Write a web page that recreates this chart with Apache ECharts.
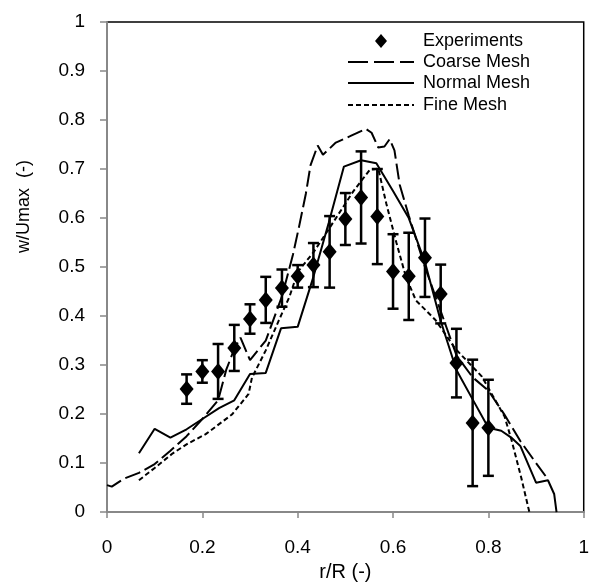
<!DOCTYPE html>
<html><head><meta charset="utf-8">
<script src="https://cdn.jsdelivr.net/npm/echarts@6/dist/echarts.min.js"></script>
<style>html,body{margin:0;padding:0;background:#fff}#c{width:592px;height:587px}</style>
</head><body><div id="c"></div>
<script>
var xTicks = [0, 0.2, 0.4, 0.6, 0.8, 1];
var yTicks = [0, 0.1, 0.2, 0.3, 0.4, 0.5, 0.6, 0.7, 0.8, 0.9, 1];
var legendNames = ['Experiments', 'Coarse Mesh', 'Normal Mesh', 'Fine Mesh'];

var expX = [0.167,0.2,0.233,0.267,0.3,0.333,0.367,0.4,0.433,0.467,0.5,0.533,0.567,0.6,0.633,0.667,0.7,0.733,0.767,0.8];
var expY = [0.251,0.287,0.287,0.335,0.394,0.433,0.457,0.481,0.504,0.531,0.598,0.642,0.603,0.491,0.481,0.519,0.445,0.304,0.182,0.172];
var expErr = [0.030,0.023,0.056,0.047,0.030,0.047,0.038,0.023,0.045,0.073,0.053,0.094,0.097,0.076,0.089,0.080,0.060,0.070,0.129,0.098];

var coarseX = [0,0.01,0.035,0.067,0.1,0.133,0.167,0.2,0.233,0.25,0.267,0.28,0.3,0.333,0.367,0.39,0.403,0.417,0.427,0.442,0.453,0.48,0.51,0.543,0.555,0.569,0.582,0.593,0.603,0.614,0.633,0.667,0.7,0.733,0.767,0.8,0.833,0.867,0.9,0.925];
var coarseY = [0.055,0.052,0.068,0.08,0.098,0.125,0.155,0.19,0.228,0.29,0.333,0.356,0.31,0.35,0.44,0.525,0.583,0.649,0.708,0.748,0.729,0.754,0.767,0.782,0.774,0.744,0.746,0.761,0.738,0.668,0.605,0.5,0.41,0.32,0.275,0.248,0.2,0.145,0.1,0.067];

var normalX = [0.067,0.1,0.133,0.167,0.2,0.235,0.267,0.3,0.333,0.365,0.4,0.433,0.465,0.497,0.533,0.565,0.6,0.633,0.667,0.7,0.733,0.767,0.8,0.827,0.848,0.867,0.9,0.925,0.938,0.943];
var normalY = [0.12,0.17,0.152,0.169,0.19,0.212,0.228,0.282,0.284,0.375,0.378,0.48,0.59,0.705,0.718,0.712,0.655,0.6,0.51,0.39,0.29,0.23,0.172,0.166,0.152,0.135,0.06,0.065,0.037,0];

var fineX = [0.067,0.1,0.138,0.17,0.207,0.233,0.262,0.297,0.304,0.333,0.36,0.383,0.4,0.433,0.469,0.517,0.551,0.569,0.586,0.607,0.627,0.648,0.689,0.731,0.786,0.834,0.848,0.869,0.886];
var fineY = [0.065,0.09,0.12,0.14,0.159,0.178,0.199,0.241,0.274,0.33,0.39,0.44,0.49,0.53,0.583,0.655,0.698,0.701,0.629,0.55,0.48,0.432,0.392,0.333,0.277,0.195,0.149,0.07,0];

function pairs(xs, ys){ return xs.map(function(x,i){ return [x, ys[i]]; }); }

var chart = echarts.init(document.getElementById('c'), null, {renderer:'canvas'});
var FONT = 'Liberation Sans, Arial, sans-serif';
var COARSE_DASH = [16,5], FINE_DASH = [5,3];

// manual legend (Excel style: no box)
var legX0 = 348, legX1 = 414, legText = 423, legRows = [41, 62, 83, 105];
var legendGraphics = [
  {type:'polygon', shape:{points:[[381,legRows[0]-7],[387,legRows[0]],[381,legRows[0]+7],[375,legRows[0]]]}, style:{fill:'#000'}},
  {type:'line', shape:{x1:legX0,y1:legRows[1],x2:legX1,y2:legRows[1]}, style:{stroke:'#000', lineWidth:2, lineDash:[20,6]}},
  {type:'line', shape:{x1:legX0,y1:legRows[2],x2:legX1,y2:legRows[2]}, style:{stroke:'#000', lineWidth:2}},
  {type:'line', shape:{x1:legX0,y1:legRows[3],x2:legX1,y2:legRows[3]}, style:{stroke:'#000', lineWidth:2, lineDash:FINE_DASH}}
];
legendNames.forEach(function(n, i){
  legendGraphics.push({type:'text', x:legText, y:legRows[i], style:{text:n, font:'18px ' + FONT, fill:'#000', verticalAlign:'middle', align:'left'}});
});
legendGraphics.push({
  type:'text', left:15, top:160, rotation: Math.PI/2,
  style:{text:'w/Umax  (-)', font:'18px ' + FONT, fill:'#000'}
});

var option = {
  animation: false,
  grid: {left:107, right:3, top:22, bottom:58, show:true, borderColor:'#000', borderWidth:1.5, backgroundColor:'transparent'},
  xAxis: {
    type:'value', min:0, max:1, interval:0.2,
    name:'r/R (-)', nameLocation:'middle', nameGap:33,
    nameTextStyle:{fontFamily:FONT, fontSize:20, color:'#000'},
    axisLine:{show:true, onZero:false, lineStyle:{color:'#888', width:2}},
    axisTick:{show:true, length:6, lineStyle:{color:'#888', width:1.5}},
    axisLabel:{fontFamily:FONT, fontSize:19, color:'#000', margin:26,
      formatter:function(v){ var r=Math.round(v*10)/10; return xTicks.indexOf(r) >= 0 ? String(r) : ''; }},
    splitLine:{show:false}
  },
  yAxis: {
    type:'value', min:0, max:1, interval:0.1,
    axisLine:{show:true, onZero:false, lineStyle:{color:'#888', width:2}},
    axisTick:{show:true, length:7, lineStyle:{color:'#888', width:1.5}},
    axisLabel:{fontFamily:FONT, fontSize:19, color:'#000', margin:22,
      formatter:function(v){ var r=Math.round(v*10)/10; return yTicks.indexOf(r) >= 0 ? String(r) : ''; }},
    splitLine:{show:false}
  },
  graphic: legendGraphics,
  series: [
    {
      name:'Coarse Mesh', type:'line', data:pairs(coarseX, coarseY), symbol:'none',
      lineStyle:{color:'#000', width:2, type:COARSE_DASH}, itemStyle:{color:'#000'}, z:3
    },
    {
      name:'Normal Mesh', type:'line', data:pairs(normalX, normalY), symbol:'none',
      lineStyle:{color:'#000', width:2, type:'solid'}, itemStyle:{color:'#000'}, z:3
    },
    {
      name:'Fine Mesh', type:'line', data:pairs(fineX, fineY), symbol:'none',
      lineStyle:{color:'#000', width:2, type:FINE_DASH}, itemStyle:{color:'#000'}, z:3
    },
    {
      name:'errbars', type:'custom', z:4,
      data: expX.map(function(x,i){ return [x, expY[i]-expErr[i], expY[i]+expErr[i]]; }),
      renderItem: function(params, api){
        var x = api.value(0);
        var lo = api.coord([x, api.value(1)]);
        var hi = api.coord([x, api.value(2)]);
        var hw = 5.5;
        var st = {stroke:'#000', lineWidth:2.5};
        return {type:'group', children:[
          {type:'line', shape:{x1:lo[0], y1:lo[1], x2:hi[0], y2:hi[1]}, style:st},
          {type:'line', shape:{x1:lo[0]-hw, y1:lo[1], x2:lo[0]+hw, y2:lo[1]}, style:st},
          {type:'line', shape:{x1:hi[0]-hw, y1:hi[1], x2:hi[0]+hw, y2:hi[1]}, style:st}
        ]};
      }
    },
    {
      name:'Experiments', type:'scatter', data:pairs(expX, expY), symbol:'diamond', symbolSize:[14,17],
      itemStyle:{color:'#000', opacity:1}, z:5
    }
  ]
};
chart.setOption(option);
</script>
</body></html>
